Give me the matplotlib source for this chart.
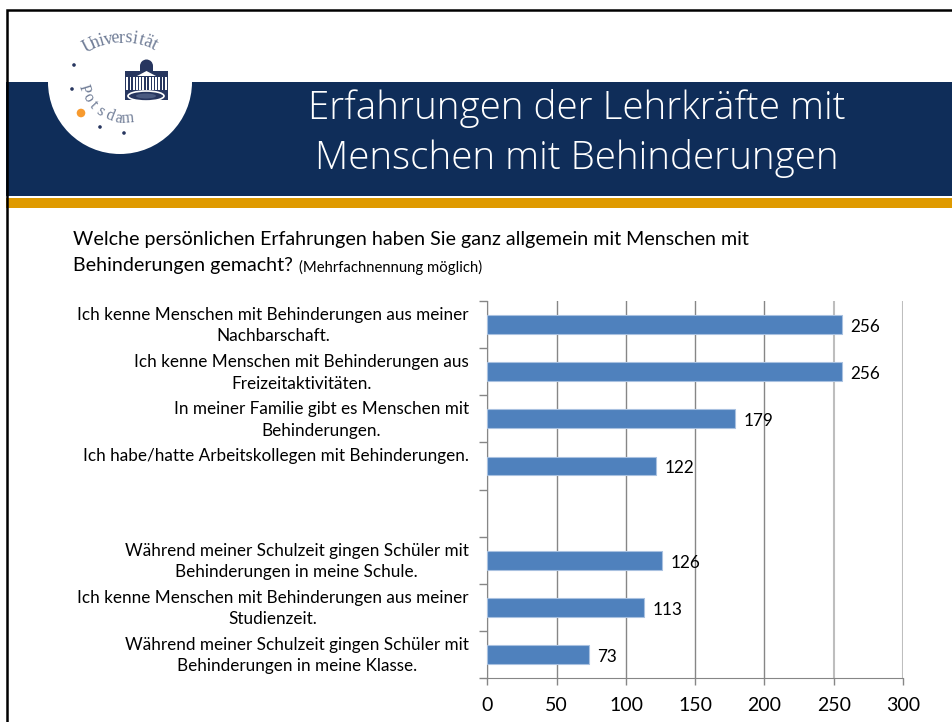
import numpy as np
import matplotlib
matplotlib.use('Agg')
import matplotlib.pyplot as plt
from matplotlib.patches import Circle, Rectangle, Ellipse, Polygon

# Chart data
categories = ['Ich kenne Menschen mit Behinderungen aus meiner\nNachbarschaft.',
              'Ich kenne Menschen mit Behinderungen aus\nFreizeitaktivitäten.',
              'In meiner Familie gibt es Menschen mit\nBehinderungen.',
              'Ich habe/hatte Arbeitskollegen mit Behinderungen.\n ',
              '',
              'Während meiner Schulzeit gingen Schüler mit\nBehinderungen in meine Schule.',
              'Ich kenne Menschen mit Behinderungen aus meiner\nStudienzeit.',
              'Während meiner Schulzeit gingen Schüler mit\nBehinderungen in meine Klasse.']
values = [256, 256, 179, 122, None, 126, 113, 73]
xticks = [0, 50, 100, 150, 200, 250, 300]

title_lines = ['Erfahrungen der Lehrkräfte mit', 'Menschen mit Behinderungen']
question_1 = 'Welche persönlichen Erfahrungen haben Sie ganz allgemein mit Menschen mit'
question_2 = 'Behinderungen gemacht?'
question_3 = '(Mehrfachnennung möglich)'

navy = '#0F2D59'
gold = '#DF9A00'
bar_col = '#4F81BD'

fig = plt.figure(figsize=(9.53, 7.22), dpi=100, facecolor='white')

# Slide background, in pixel coordinates
bg = fig.add_axes([0, 0, 1, 1])
bg.set_xlim(0, 953)
bg.set_ylim(722, 0)
bg.axis('off')
bg.add_patch(Rectangle((6, 82), 947, 114, color=navy, lw=0))
bg.add_patch(Rectangle((6, 198), 947, 10, color=gold, lw=0))
bg.plot([7, 7, 953], [722, 10, 10], color='black', lw=1.8, solid_joinstyle='miter')
bg.add_patch(Circle((120, 82), 72, color='white', lw=0))

# Logo
logo_col = '#27365F'
for x, y in [(74, 65), (72, 89), (100, 127), (124, 133)]:
    bg.add_patch(Circle((x, y), 1.8, color=logo_col, lw=0))
bg.add_patch(Circle((81, 113), 4.3, color='#F79A2E', lw=0))

word = 'Universität'
angles = np.linspace(117, 64, len(word))
for ch, a in zip(word, angles):
    r = np.radians(a)
    bg.text(122 + 72 * np.cos(r), 110 - 72 * np.sin(r), ch, fontsize=13, family='Liberation Serif',
            color='#6F7C96', rotation=a - 90, ha='center', va='center')
word = 'Potsdam'
angles = np.linspace(197, 274, len(word))
for ch, a in zip(word, angles):
    r = np.radians(a)
    bg.text(125 + 43 * np.cos(r), 76 - 43 * np.sin(r), ch, fontsize=11.5, family='Liberation Serif',
            color='#6F7C96', rotation=a - 270, ha='center', va='center')

bg.add_patch(Rectangle((125, 71), 43, 29, color=logo_col, lw=0))
bg.add_patch(Circle((146.5, 66), 6.5, color=logo_col, lw=0))
bg.add_patch(Rectangle((140, 66), 13, 7, color=logo_col, lw=0))
bg.add_patch(Polygon([[137, 76], [146.5, 71], [156, 76]], fc='white', ec='none'))
for x in np.arange(126.5, 167, 3.2):
    bg.add_patch(Rectangle((x, 77), 1.7, 13, color='white', lw=0))
bg.add_patch(Ellipse((146, 96), 36, 10, fc=logo_col, ec='white', lw=1.2))
bg.add_patch(Ellipse((146, 96), 20, 5, fc='#4A5A80', ec='none'))

# Title and question
bg.text(577, 108, title_lines[0], fontsize=27.7, family='Open Sans', color='white',
        ha='center', va='center', fontweight='light')
bg.text(577, 159, title_lines[1], fontsize=27.7, family='Open Sans', color='white',
        ha='center', va='center', fontweight='light')
bg.text(73, 240, question_1, fontsize=14.1, family='Lato', color='black', va='center')
bg.text(73, 266, question_2, fontsize=14.1, family='Lato', color='black', va='center')
bg.text(299, 267, question_3, fontsize=10.7, family='Lato', color='black', va='center')

# Bar chart
ax = fig.add_axes([487.5 / 953, (722 - 678) / 722, 415.5 / 953, 377 / 722])
pos = np.arange(len(categories))
for p, v in zip(pos, values):
    if v is None:
        continue
    ax.barh(p, v, height=0.40, color=bar_col, edgecolor='#A9C1E0', linewidth=0.8, zorder=3)
    ax.annotate(str(v), (v, p), xytext=(6, -1.7), textcoords='offset points', va='center',
                fontsize=12.3, family='Lato', color='black', zorder=4)

ax.set_xlim(0, 300)
ax.set_ylim(len(categories) - 0.5, -0.5)
ax.set_xticks(xticks)
ax.set_xticklabels([str(t) for t in xticks], fontsize=14, family='Lato')
ax.tick_params(axis='x', length=5, width=1, color='#868686', pad=9)

ax.set_yticks(np.arange(-0.5, len(categories)))
ax.set_yticklabels([])
ax.tick_params(axis='y', length=6, width=1, color='#868686')

ax.grid(axis='x', color='#868686', lw=1, zorder=0)
grid = ax.get_xgridlines()
for g in grid[-2:]:
    g.set_color('#BEBEBE')
    g.set_linewidth(1.5)
for s in ['top', 'right']:
    ax.spines[s].set_visible(False)
ax.spines['left'].set_color('#868686')
ax.spines['bottom'].set_color('#868686')

# Category labels: right aligned block, centred lines
for p, c in zip(pos, categories):
    ax.annotate(c, (0, p), xytext=(-13.5, -0.8), textcoords='offset points', ha='right', va='center',
                multialignment='center', fontsize=12.35, family='Lato', color='black',
                linespacing=1.42)

fig.savefig('out.png', dpi=100)
